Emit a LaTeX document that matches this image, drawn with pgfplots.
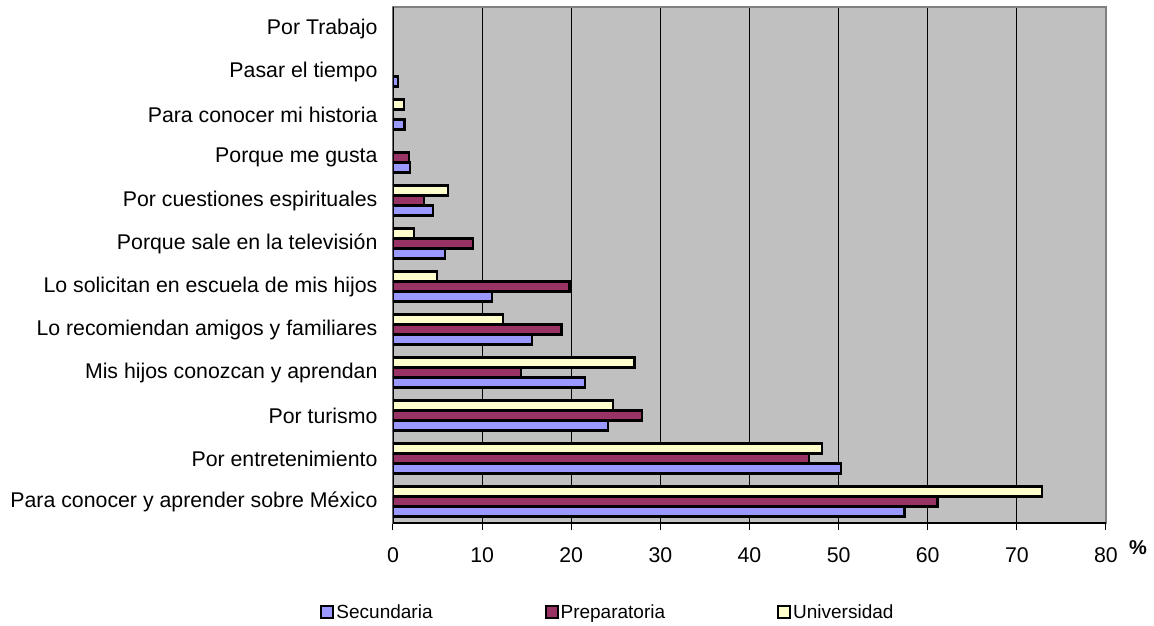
\documentclass[border=0pt]{standalone}
\usepackage{fontspec}
\setmainfont{Liberation Sans}
\usepackage{pgfplots}
\pgfplotsset{compat=1.18}
\definecolor{secu}{HTML}{9999FF}
\definecolor{prep}{HTML}{993366}
\definecolor{univ}{HTML}{FFFFCC}
\definecolor{plotbg}{HTML}{C0C0C0}
\definecolor{framegray}{HTML}{808080}
\begin{document}
\begin{tikzpicture}
\useasboundingbox (-393pt,-102pt) rectangle (761pt,523pt);
\begin{axis}[
  at={(0,0)}, anchor=south west,
  scale only axis, width=713pt, height=516pt,
  xbar, bar width=10pt,
  xmin=0, xmax=80, ymin=-0.5, ymax=11.5,
  xtick={0,10,...,80},
  ytick=\empty,
  minor ytick={-0.5,0.5,...,11.5},
  extra y ticks={0,...,11},
  extra y tick labels={Para conocer y aprender sobre México, Por entretenimiento, Por turismo,
    Mis hijos conozcan y aprendan, Lo recomiendan amigos y familiares,
    Lo solicitan en escuela de mis hijos, Porque sale en la televisión,
    Por cuestiones espirituales, Porque me gusta, Para conocer mi historia,
    Pasar el tiempo, Por Trabajo},
  extra y tick style={major tick length=0pt},
  yticklabel style={xshift=-12pt},
  xticklabel style={yshift=-14pt},
  tick label style={font=\fontsize{21.3}{25}\selectfont},
  /pgf/number format/assume math mode=true,
  tick align=outside, xtick pos=bottom, ytick pos=left,
  major tick length=7pt, minor tick length=7pt,
  tick style={black, line width=1pt},
  xmajorgrids, major grid style={black, line width=1pt},
  axis background/.style={fill=plotbg},
  axis line style={framegray, line width=2pt},
  xlabel={\%},
  xlabel style={at={(axis description cs:1.045,-0.048)}, anchor=center,
    font=\bfseries\fontsize{20}{24}\selectfont},
  legend style={at={(-0.102,-0.1725)}, anchor=west, draw=none, fill=none,
    inner sep=0pt, font=\fontsize{19}{23}\selectfont, legend columns=3,
    /tikz/every even column/.append style={column sep=110pt}},
  legend image code/.code={\draw[#1, line width=2pt] (0pt,-6pt) rectangle (12pt,6pt);},
]
\addplot[draw=black, line width=2.2pt, fill=secu, bar shift=-10pt] coordinates {
  (57.4,0) (50.3,1) (24.1,2) (21.5,3) (15.6,4) (11.1,5) (5.8,6) (4.5,7)
  (1.9,8) (1.3,9) (0.6,10)};
\addplot[draw=black, line width=2.2pt, fill=prep, bar shift=0pt] coordinates {
  (61.1,0) (46.7,1) (27.9,2) (14.4,3) (18.9,4) (19.8,5) (9.0,6) (3.5,7)
  (1.8,8)};
\addplot[draw=black, line width=2.2pt, fill=univ, bar shift=10pt] coordinates {
  (72.8,0) (48.1,1) (24.7,2) (27.1,3) (12.3,4) (4.9,5) (2.4,6) (6.2,7)
  (1.2,9)};
\legend{Secundaria, Preparatoria, Universidad}
\draw[black, line width=1.5pt] (rel axis cs:0,1) -- (rel axis cs:0,0) -- (rel axis cs:1,0);
\end{axis}
\end{tikzpicture}
\end{document}
